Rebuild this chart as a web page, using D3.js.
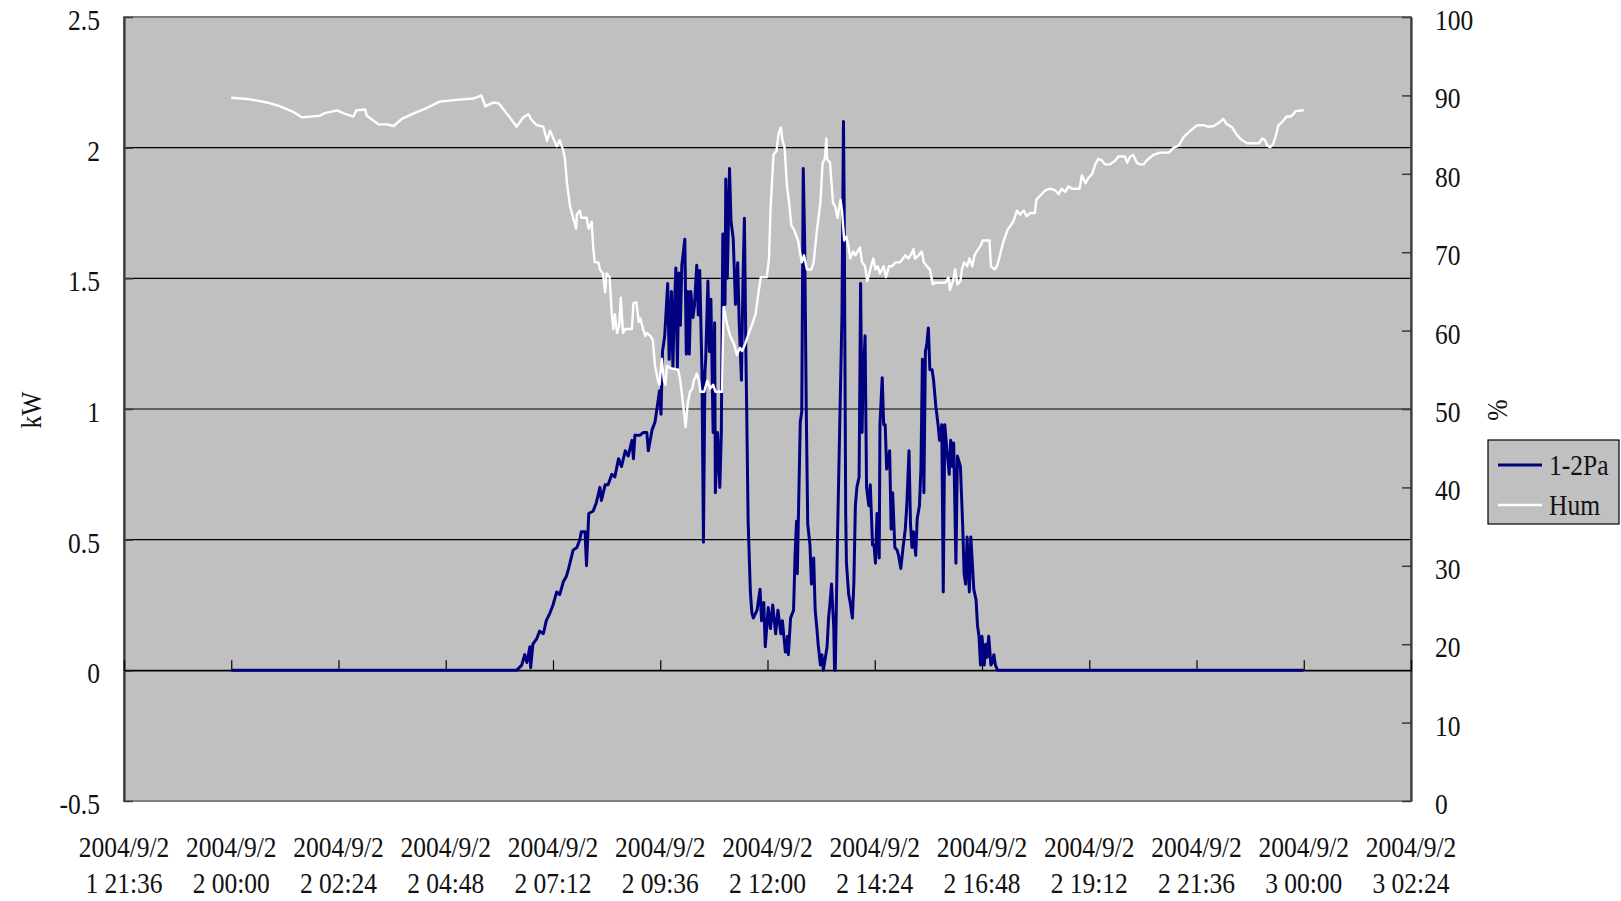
<!DOCTYPE html>
<html>
<head>
<meta charset="utf-8">
<script src="https://cdn.jsdelivr.net/npm/d3@7"></script>
<style>
  html, body { margin: 0; padding: 0; background: #fff; }
  text { font-family: "Liberation Serif", "Times New Roman", serif; fill: #111; }
</style>
</head>
<body>
<div id="chart"></div>
<script>
// minutes after 2004/9/2 00:00
const powerMinutes = [0, 383, 390, 394, 397, 401, 402, 405, 410, 414, 419, 423, 428, 432, 437, 441, 446, 450, 453, 459,
  464, 468, 470, 475, 477, 480, 486, 490, 495, 497, 502, 506, 511, 515, 520, 524, 529, 533, 538, 540,
  542, 549, 553, 558, 560, 565, 569, 571, 575, 577, 579, 582, 586, 588, 591, 593, 595, 597, 599, 601,
  603, 605, 609, 611, 613, 615, 617, 620, 622, 625, 627, 629, 632, 634, 636, 637, 640, 642, 644, 647,
  649, 650, 653, 656, 658, 660, 663, 664, 666, 669, 671, 674, 677, 680, 682, 685, 687, 689, 691, 692,
  694, 697, 699, 701, 706, 710, 712, 715, 717, 721, 724, 727, 731, 734, 738, 740, 744, 747, 748, 751,
  755, 757, 759, 760, 764, 766, 768, 770, 772, 774, 777, 779, 782, 784, 786, 788, 791, 793, 795, 800,
  802, 804, 806, 809, 810, 811, 814, 817, 820, 822, 823, 825, 826, 829, 831, 834, 836, 838, 840, 843,
  845, 847, 848, 851, 853, 856, 858, 861, 863, 865, 867, 870, 871, 874, 876, 878, 880, 884, 886, 888,
  891, 894, 896, 899, 902, 905, 907, 910, 912, 914, 916, 919, 921, 924, 926, 928, 930, 932, 934, 936,
  938, 941, 943, 946, 949, 951, 954, 956, 958, 961, 964, 966, 968, 970, 973, 975, 977, 979, 982, 984,
  986, 988, 991, 993, 995, 997, 1000, 1002, 1004, 1006, 1008, 1011, 1013, 1015, 1017, 1020, 1022, 1024, 1026, 1029,
  1440];
const powerKW = [0, 0, 0.02, 0.06, 0.03, 0.09, 0.01, 0.1, 0.12, 0.15, 0.14, 0.19, 0.22, 0.25, 0.3, 0.29, 0.34, 0.36, 0.39, 0.46,
  0.47, 0.5, 0.53, 0.53, 0.4, 0.6, 0.61, 0.64, 0.7, 0.65, 0.71, 0.71, 0.75, 0.74, 0.81, 0.78, 0.84, 0.82, 0.88, 0.81,
  0.9, 0.9, 0.91, 0.91, 0.84, 0.92, 0.95, 0.99, 1.07, 0.98, 1.22, 1.28, 1.48, 1.19, 1.45, 1.16, 1.39, 1.54, 1.16, 1.52,
  1.32, 1.55, 1.65, 1.21, 1.45, 1.21, 1.45, 1.35, 1.4, 1.55, 1.36, 1.53, 1.14, 0.49, 1.14, 1.19, 1.49, 1.22, 1.42, 0.91,
  1.33, 0.68, 0.91, 0.7, 0.91, 1.67, 1.4, 1.88, 1.5, 1.92, 1.72, 1.65, 1.4, 1.56, 1.33, 1.11, 1.48, 1.73, 1.21, 1.01,
  0.57, 0.3, 0.22, 0.2, 0.23, 0.31, 0.19, 0.26, 0.09, 0.24, 0.16, 0.25, 0.14, 0.23, 0.14, 0.19, 0.07, 0.13, 0.06, 0.2,
  0.23, 0.44, 0.57, 0.37, 0.95, 0.99, 1.92, 1.62, 1.01, 0.56, 0.48, 0.33, 0.43, 0.23, 0.17, 0.1, 0.02, 0.06, 0, 0.09,
  0.2, 0.26, 0.33, 0.16, 0, 0, 0.51, 0.94, 1.36, 2.1, 1.76, 0.6, 0.41, 0.29, 0.26, 0.2, 0.34, 0.63, 0.7, 0.74,
  1.48, 0.91, 1.08, 1.28, 0.7, 0.63, 0.71, 0.48, 0.48, 0.41, 0.6, 0.43, 0.94, 1.12, 0.94, 0.94, 0.77, 0.84, 0.54, 0.68,
  0.47, 0.46, 0.44, 0.39, 0.47, 0.54, 0.63, 0.84, 0.56, 0.47, 0.53, 0.44, 0.58, 0.63, 0.77, 1.19, 0.68, 1.22, 1.25, 1.31,
  1.15, 1.15, 1.11, 1.01, 0.94, 0.88, 0.94, 0.3, 0.94, 0.84, 0.75, 0.88, 0.78, 0.87, 0.41, 0.82, 0.8, 0.78, 0.56, 0.37,
  0.33, 0.51, 0.3, 0.51, 0.41, 0.31, 0.27, 0.17, 0.13, 0.02, 0.13, 0.02, 0.1, 0.05, 0.13, 0.02, 0.03, 0.06, 0.02, 0,
  0];

const humMinutes = [0, 25, 48, 66, 83, 95, 119, 124, 142, 151, 164, 168, 180, 182, 198, 209, 218, 229, 245, 258,
  280, 298, 325, 336, 341, 352, 359, 374, 383, 392, 399, 403, 410, 419, 424, 428, 437, 441, 446, 448,
  451, 455, 459, 463, 464, 468, 470, 477, 480, 484, 486, 488, 493, 495, 499, 502, 504, 508, 511, 513,
  515, 518, 521, 523, 526, 529, 538, 540, 544, 547, 549, 553, 556, 558, 563, 566, 569, 573, 575, 578,
  581, 583, 585, 590, 600, 603, 607, 610, 613, 616, 619, 621, 625, 628, 630, 635, 639, 643, 647, 650,
  659, 661, 666, 670, 675, 679, 683, 686, 690, 695, 699, 704, 708, 711, 719, 722, 724, 728, 732, 735,
  738, 740, 743, 746, 749, 752, 755, 759, 761, 766, 769, 773, 779, 782, 786, 791, 794, 797, 799, 800,
  804, 808, 811, 814, 818, 820, 823, 826, 829, 831, 835, 838, 844, 847, 851, 854, 858, 862, 865, 868,
  871, 876, 879, 883, 887, 892, 898, 905, 909, 914, 916, 918, 923, 927, 930, 934, 938, 942, 945, 952,
  959, 963, 965, 969, 972, 975, 979, 981, 984, 988, 991, 995, 998, 1001, 1006, 1009, 1018, 1020, 1025, 1028,
  1031, 1036, 1042, 1050, 1055, 1059, 1064, 1068, 1073, 1079, 1081, 1086, 1093, 1099, 1106, 1111, 1115, 1120, 1124, 1129,
  1139, 1142, 1147, 1151, 1156, 1160, 1164, 1169, 1173, 1180, 1187, 1191, 1200, 1203, 1207, 1211, 1216, 1220, 1225, 1229,
  1238, 1247, 1259, 1265, 1272, 1279, 1288, 1297, 1306, 1312, 1319, 1326, 1332, 1336, 1344, 1350, 1357, 1364, 1380, 1384,
  1388, 1391, 1395, 1399, 1402, 1406, 1411, 1417, 1422, 1426, 1429, 1440];
const humPct = [89.7, 89.5, 89.1, 88.6, 87.9, 87.2, 87.4, 87.7, 88.1, 87.7, 87.3, 88.1, 88.2, 87.4, 86.3, 86.3, 86.1, 87.0, 87.7, 88.2,
  89.2, 89.4, 89.6, 90.0, 88.6, 89.1, 89.0, 87.2, 86.0, 87.2, 87.6, 86.9, 86.2, 86.0, 84.2, 85.5, 83.5, 84.3, 82.9, 81.9,
  78.6, 75.8, 74.4, 73.0, 74.8, 75.3, 74.4, 74.4, 73.0, 73.9, 70.6, 68.7, 68.7, 67.8, 67.3, 64.9, 67.3, 66.8, 62.1, 60.2,
  62.1, 59.7, 60.7, 64.2, 59.7, 60.2, 60.2, 63.5, 63.6, 61.1, 61.6, 60.2, 59.3, 59.7, 59.3, 58.8, 55.5, 53.6, 53.1, 56.4,
  53.6, 53.1, 55.5, 55.2, 55.0, 53.6, 50.3, 47.7, 50.8, 52.2, 52.6, 53.6, 54.5, 53.6, 52.2, 52.2, 53.6, 52.6, 53.1, 52.2,
  52.2, 63.0, 60.7, 59.3, 58.3, 56.9, 57.8, 57.4, 58.3, 59.7, 60.7, 62.1, 64.9, 66.8, 66.8, 69.2, 75.3, 82.4, 82.9, 85.2,
  85.9, 84.3, 83.3, 78.6, 76.3, 73.4, 73.0, 72.0, 71.5, 68.7, 69.6, 67.8, 67.8, 68.7, 72.5, 76.3, 81.4, 81.9, 84.5, 81.9,
  81.4, 76.3, 75.8, 74.4, 76.7, 75.3, 71.5, 72.0, 70.6, 69.2, 70.1, 69.6, 70.6, 68.7, 68.2, 66.3, 67.8, 69.2, 67.8, 68.2,
  67.3, 68.2, 66.8, 68.2, 68.2, 68.7, 68.7, 69.6, 69.2, 69.9, 70.4, 69.2, 69.6, 70.1, 68.7, 68.2, 67.8, 65.9, 66.1, 66.1,
  66.1, 66.8, 65.2, 66.3, 67.8, 65.9, 66.3, 67.8, 68.7, 68.2, 69.2, 68.2, 69.6, 70.1, 70.8, 71.5, 71.5, 68.2, 67.8, 68.2,
  69.2, 71.1, 72.8, 73.9, 75.3, 74.8, 75.3, 74.6, 75.0, 75.0, 76.7, 77.2, 77.9, 78.1, 77.9, 77.4, 78.1, 77.7, 78.4, 78.1,
  78.1, 79.8, 78.8, 79.5, 80.0, 81.2, 81.9, 81.7, 81.2, 81.2, 81.7, 82.2, 82.2, 81.4, 82.2, 82.4, 81.4, 81.2, 81.2, 81.7,
  82.4, 82.7, 82.7, 83.3, 83.6, 84.7, 85.5, 86.2, 86.2, 86.0, 86.1, 86.5, 87.0, 86.4, 85.9, 85.0, 84.3, 83.9, 83.9, 84.5,
  84.3, 83.6, 83.4, 83.8, 84.7, 86.2, 86.6, 87.3, 87.3, 87.6, 88.0, 88.1];

const kwTicks = [-0.5, 0, 0.5, 1, 1.5, 2, 2.5];
const humTicks = [0, 10, 20, 30, 40, 50, 60, 70, 80, 90, 100];
const xLabelDate = ["2004/9/2", "2004/9/2", "2004/9/2", "2004/9/2", "2004/9/2", "2004/9/2", "2004/9/2",
  "2004/9/2", "2004/9/2", "2004/9/2", "2004/9/2", "2004/9/2", "2004/9/2"];
const xLabelTime = ["1 21:36", "2 00:00", "2 02:24", "2 04:48", "2 07:12", "2 09:36", "2 12:00",
  "2 14:24", "2 16:48", "2 19:12", "2 21:36", "3 00:00", "3 02:24"];
const seriesNames = ["1-2Pa", "Hum"];

const SX = 0.88;      // narrow the serif glyphs a bit
const FS = 29;

const W = 1621, H = 901;
const plot = { left: 124, right: 1411, top: 17, bottom: 801 };

const day0 = new Date(2004, 8, 2, 0, 0);
const atMin = m => new Date(day0.getTime() + m * 60000);
const xStart = atMin(-144), xEnd = atMin(26 * 60 + 24);
const tickDates = xLabelTime.map((_, i) => atMin(-144 + i * 144));

const power = powerMinutes.map((m, i) => ({ t: atMin(m), v: powerKW[i] }));
const hum = humMinutes.map((m, i) => ({ t: atMin(m), v: humPct[i] }));

const svg = d3.select("#chart").append("svg")
  .attr("width", W).attr("height", H)
  .style("display", "block");

const x = d3.scaleTime().domain([xStart, xEnd]).range([plot.left, plot.right]);
const yKW = d3.scaleLinear().domain([-0.5, 2.5]).range([plot.bottom, plot.top]);
const yHum = d3.scaleLinear().domain([0, 100]).range([plot.bottom, plot.top]);

// plot background
svg.append("rect")
  .attr("x", plot.left).attr("y", plot.top)
  .attr("width", plot.right - plot.left).attr("height", plot.bottom - plot.top)
  .attr("fill", "#c0c0c0");

// gridlines
svg.append("g").selectAll("line")
  .data(kwTicks.filter(d => d > -0.5 && d < 2.5))
  .join("line")
  .attr("x1", plot.left).attr("x2", plot.right)
  .attr("y1", d => yKW(d)).attr("y2", d => yKW(d))
  .attr("stroke", "#000").attr("stroke-width", 1.2);

// frame
svg.append("rect")
  .attr("x", plot.left).attr("y", plot.top)
  .attr("width", plot.right - plot.left).attr("height", plot.bottom - plot.top)
  .attr("fill", "none").attr("stroke", "#808080").attr("stroke-width", 2);

// left axis
const leftAxis = svg.append("g")
  .attr("transform", `translate(${plot.left},0)`)
  .call(d3.axisLeft(yKW).tickValues(kwTicks).tickFormat(d => String(d))
    .tickSizeInner(-9).tickSizeOuter(0).tickPadding(24));

// right axis
const rightAxis = svg.append("g")
  .attr("transform", `translate(${plot.right},0)`)
  .call(d3.axisRight(yHum).tickValues(humTicks).tickFormat(d => String(d))
    .tickSizeInner(-9).tickSizeOuter(0).tickPadding(24));

[leftAxis, rightAxis].forEach((ax, i) => {
  ax.attr("font-family", null);
  ax.select(".domain").attr("stroke", "#3a3a3a").attr("stroke-width", 2.2);
  ax.selectAll(".tick line").attr("stroke", "#3a3a3a").attr("stroke-width", 1.5);
  ax.selectAll(".tick text")
    .attr("font-size", FS)
    .attr("fill", "#111")
    .attr("x", (i === 0 ? -24 : 24) / SX)
    .attr("dy", "0.43em")
    .attr("transform", `scale(${SX},1)`);
});

// category axis across the zero line, ticks pointing up
const xAxis = svg.append("g")
  .attr("transform", `translate(0,${yKW(0)})`)
  .call(d3.axisBottom(x).tickValues(tickDates).tickFormat("")
    .tickSizeInner(-10).tickSizeOuter(0));
xAxis.select(".domain").attr("stroke", "#000").attr("stroke-width", 1.2);
xAxis.selectAll(".tick line").attr("stroke", "#000").attr("stroke-width", 1.2);

// x labels, two lines, under the plot
const xl = svg.append("g").selectAll("g")
  .data(tickDates)
  .join("g")
  .attr("transform", d => `translate(${x(d)},0)`);
xl.append("text")
  .attr("transform", `translate(0,857) scale(${SX},1)`)
  .attr("text-anchor", "middle").attr("font-size", FS)
  .text((d, i) => xLabelDate[i]);
xl.append("text")
  .attr("transform", `translate(0,893) scale(${SX},1)`)
  .attr("text-anchor", "middle").attr("font-size", FS)
  .text((d, i) => xLabelTime[i]);

// series
const kwLine = d3.line().x(d => x(d.t)).y(d => yKW(d.v));
const humLine = d3.line().x(d => x(d.t)).y(d => yHum(d.v));

svg.append("path")
  .datum(power)
  .attr("d", kwLine)
  .attr("fill", "none")
  .attr("stroke", "#000080")
  .attr("stroke-width", 3)
  .attr("stroke-linejoin", "round");

svg.append("path")
  .datum(hum)
  .attr("d", humLine)
  .attr("fill", "none")
  .attr("stroke", "#ffffff")
  .attr("stroke-width", 2.4)
  .attr("stroke-linejoin", "round");

// axis titles
svg.append("text")
  .attr("transform", `translate(41,410) rotate(-90) scale(${SX},1)`)
  .attr("text-anchor", "middle").attr("font-size", FS)
  .text("kW");
svg.append("text")
  .attr("transform", `translate(1507,410) rotate(-90) scale(${SX},1)`)
  .attr("text-anchor", "middle").attr("font-size", FS)
  .text("%");

// legend
const legend = svg.append("g").attr("transform", "translate(1488,440)");
legend.append("rect")
  .attr("width", 131).attr("height", 84)
  .attr("fill", "#c0c0c0").attr("stroke", "#000").attr("stroke-width", 1.2);
const items = legend.selectAll("g.item")
  .data(seriesNames)
  .join("g")
  .attr("class", "item")
  .attr("transform", (d, i) => `translate(0,${25 + i * 40})`);
items.append("line")
  .attr("x1", 10).attr("x2", 54)
  .attr("stroke", (d, i) => i === 0 ? "#000080" : "#ffffff")
  .attr("stroke-width", (d, i) => i === 0 ? 3 : 2.4);
items.append("text")
  .attr("transform", `translate(61,10) scale(${SX},1)`)
  .attr("font-size", FS)
  .text(d => d);
</script>
</body>
</html>
